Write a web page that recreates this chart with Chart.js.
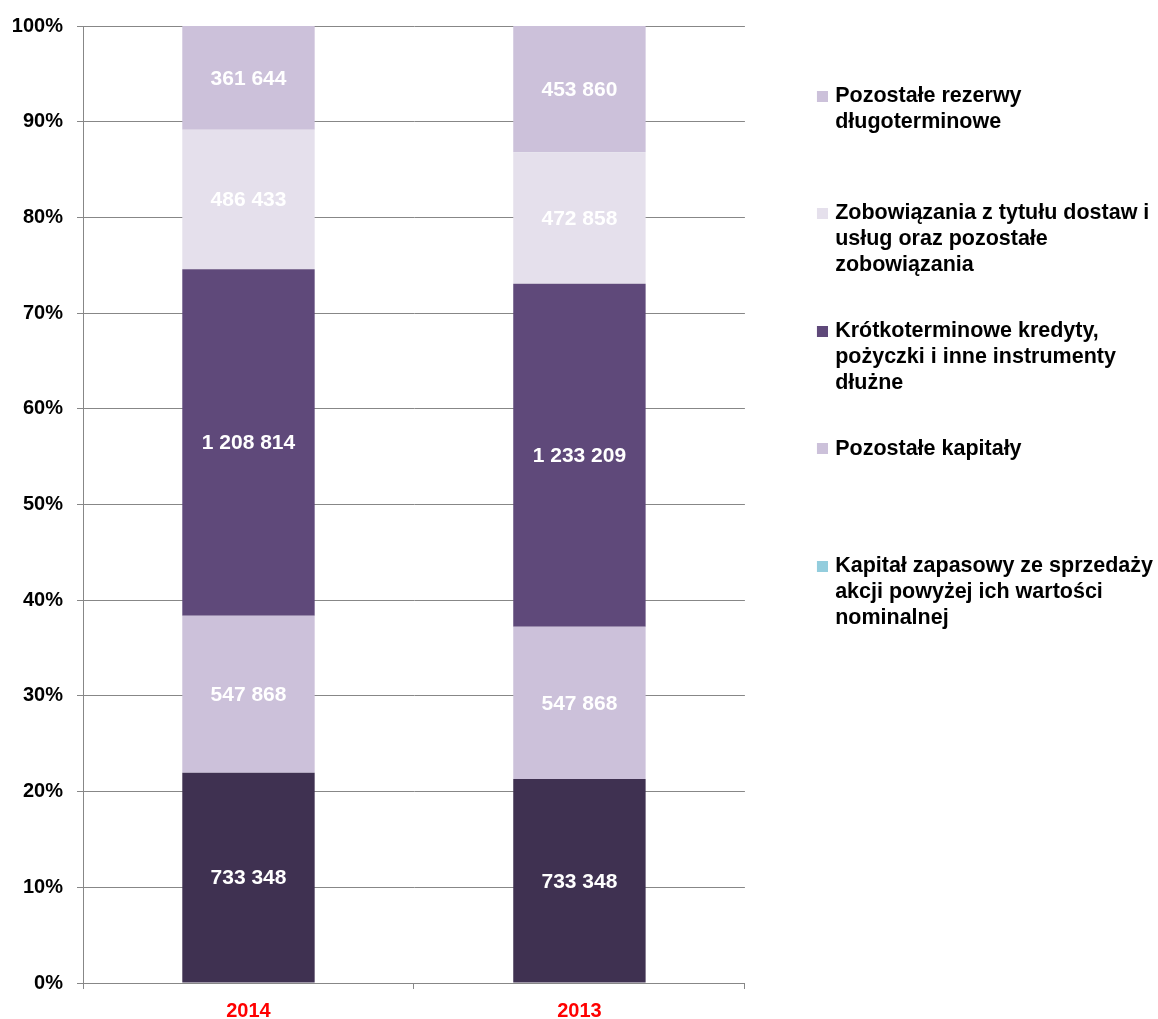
<!DOCTYPE html>
<html>
<head>
<meta charset="utf-8">
<script src="https://cdn.jsdelivr.net/npm/chart.js@4.4.1/dist/chart.umd.min.js"></script>
<style>
  html, body { margin: 0; padding: 0; background: #ffffff; }
  canvas { display: block; }
</style>
</head>
<body>
<canvas id="c" width="1158" height="1019"></canvas>
<script>
// ---- data ----
const categories = ['2014', '2013'];
const seriesNames = [
  'Kapitał zapasowy ze sprzedaży akcji powyżej ich wartości nominalnej',
  'Pozostałe kapitały',
  'Krótkoterminowe kredyty, pożyczki i inne instrumenty dłużne',
  'Zobowiązania z tytułu dostaw i usług oraz pozostałe zobowiązania',
  'Pozostałe rezerwy długoterminowe'
];
const legendLines = [
  ['Kapitał zapasowy ze sprzedaży', 'akcji powyżej ich wartości', 'nominalnej'],
  ['Pozostałe kapitały', '', ''],
  ['Krótkoterminowe kredyty,', 'pożyczki i inne instrumenty', 'dłużne'],
  ['Zobowiązania z tytułu dostaw i', 'usług oraz pozostałe', 'zobowiązania'],
  ['Pozostałe rezerwy', 'długoterminowe', '']
];
const kapitalZapasowy = [733348, 733348];
const pozostaleKapitaly = [547868, 547868];
const kredytyKrotkoterminowe = [1208814, 1233209];
const zobowiazania = [486433, 472858];
const rezerwyDlugoterminowe = [361644, 453860];
const yTicks = [0, 10, 20, 30, 40, 50, 60, 70, 80, 90, 100];

const rawSeries = [kapitalZapasowy, pozostaleKapitaly, kredytyKrotkoterminowe, zobowiazania, rezerwyDlugoterminowe];
const barColors = ['#3F3151', '#CCC1DA', '#5F497A', '#E5E0EC', '#CCC1DA'];
const legendColors = ['#93CDDD', '#CCC1DA', '#5F497A', '#E5E0EC', '#CCC1DA'];

// totals per category -> percent shares (100% stacked)
const totals = categories.map((_, j) => rawSeries.reduce((s, arr) => s + arr[j], 0));
const percentSeries = rawSeries.map(arr => arr.map((v, j) => v / totals[j] * 100));

function fmt(v) {
  return String(v).replace(/\B(?=(\d{3})+(?!\d))/g, ' ');
}

// legend swatch images (square placed near the text)
function makeSwatch(color) {
  const cv = document.createElement('canvas');
  cv.width = 47; cv.height = 11;
  const cx = cv.getContext('2d');
  cx.fillStyle = color;
  cx.fillRect(36, 0, 11, 11);
  return cv;
}
const swatches = legendColors.map(makeSwatch);

const valueLabels = {
  id: 'valueLabels',
  afterDatasetsDraw(chart) {
    const ctx = chart.ctx;
    ctx.save();
    ctx.font = 'bold 21px "Liberation Sans", Arial, sans-serif';
    ctx.fillStyle = '#ffffff';
    ctx.textAlign = 'center';
    ctx.textBaseline = 'middle';
    chart.data.datasets.forEach((ds, i) => {
      const meta = chart.getDatasetMeta(i);
      meta.data.forEach((bar, j) => {
        const p = bar.getProps(['x', 'y', 'base'], true);
        ctx.fillText(fmt(rawSeries[i][j]), p.x, (p.y + p.base) / 2 + 1);
      });
    });
    ctx.restore();
  }
};

const gridColor = '#878787';

new Chart(document.getElementById('c'), {
  type: 'bar',
  data: {
    labels: categories,
    datasets: percentSeries.map((vals, i) => ({
      label: seriesNames[i],
      data: vals,
      backgroundColor: barColors[i],
      borderWidth: 0,
      barPercentage: 0.4,
      categoryPercentage: 1.0
    }))
  },
  options: {
    responsive: false,
    animation: false,
    layout: { padding: { top: 23, left: 12, right: -5, bottom: 0 } },
    scales: {
      x: {
        stacked: true,
        afterFit(scale) { scale.height = 36; },
        grid: { display: true, drawOnChartArea: false, drawTicks: true, tickLength: 6, color: gridColor, offset: true },
        border: { display: true, color: gridColor, width: 1 },
        ticks: {
          color: '#ff0000',
          padding: 12,
          font: { family: '"Liberation Sans", Arial, sans-serif', size: 20, weight: 'bold', lineHeight: 1 }
        }
      },
      y: {
        stacked: true,
        min: 0,
        max: 100,
        afterFit(scale) { scale.width = 71; },
        afterBuildTicks(axis) { axis.ticks = yTicks.map(v => ({ value: v })); },
        grid: { display: true, drawOnChartArea: true, drawTicks: true, tickLength: 6, color: gridColor },
        border: { display: true, color: gridColor, width: 1 },
        ticks: {
          color: '#000000',
          padding: 14,
          callback: v => v + '%',
          font: { family: '"Liberation Sans", Arial, sans-serif', size: 20, weight: 'bold' }
        }
      }
    },
    plugins: {
      tooltip: { enabled: false },
      legend: {
        position: 'right',
        align: 'start',
        reverse: true,
        maxWidth: 600,
        title: { display: true, text: ' ', font: { size: 10, lineHeight: 1 }, padding: { top: 12.75, bottom: 0 } },
        labels: {
          usePointStyle: true,
          pointStyleWidth: 40,
          boxHeight: 11,
          padding: 39.5,
          color: '#000000',
          font: { family: '"Liberation Sans", Arial, sans-serif', size: 21.5, weight: 'bold', lineHeight: 1.21 },
          generateLabels(chart) {
            const items = Chart.defaults.plugins.legend.labels.generateLabels(chart);
            items.forEach(it => {
              const i = it.datasetIndex;
              it.text = legendLines[i];
              it.fillStyle = legendColors[i];
              it.pointStyle = swatches[i];
              it.lineWidth = 0;
            });
            return items;
          }
        }
      }
    }
  },
  plugins: [valueLabels]
});
</script>
</body>
</html>
